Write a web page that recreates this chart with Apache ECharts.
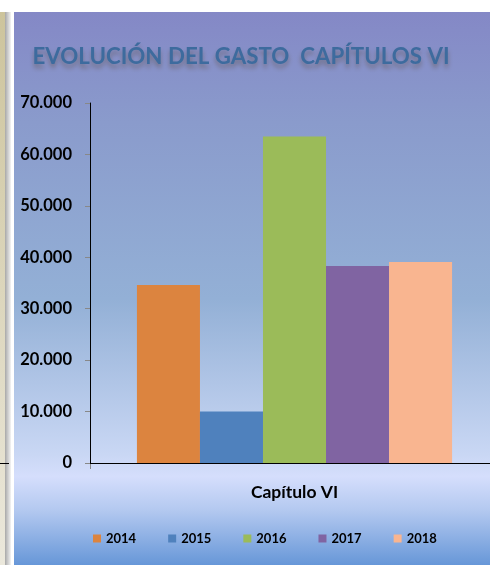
<!DOCTYPE html>
<html>
<head>
<meta charset="utf-8">
<script src="https://cdn.jsdelivr.net/npm/echarts@6/dist/echarts.min.js"></script>
<style>
  html, body { margin: 0; padding: 0; background: #ffffff; }
  #chart { width: 490px; height: 565px; }
</style>
</head>
<body>
<div id="chart"></div>
<script>
// Gasto del capítulo VI por año
const categories = ['Capítulo VI'];
const years = ['2014', '2015', '2016', '2017', '2018'];
const values = [34600, 10000, 63500, 38300, 39100];
const colors = ['#dc843f', '#4f81bd', '#9bbb59', '#8064a2', '#f9b590'];
const yTicks = { min: 0, max: 70000, interval: 10000 };

const fmt = v => String(v).replace(/\B(?=(\d{3})+(?!\d))/g, '.');

const chart = echarts.init(document.getElementById('chart'), null, { renderer: 'canvas' });

const series = years.map((y, i) => ({
  name: y,
  type: 'bar',
  data: [values[i]],
  itemStyle: { color: colors[i] },
  barGap: '0%',
  barCategoryGap: '19.4%'
}));

chart.setOption({
  animation: false,
  graphic: [
    // side strip at the left edge
    { type: 'rect', silent: true, z: -10,
      shape: { x: 0, y: 12, width: 5, height: 553 },
      style: { fill: { type: 'linear', x: 0, y: 0, x2: 0, y2: 1,
        colorStops: [{ offset: 0, color: '#cdc49c' }, { offset: 1, color: '#ebe8dc' }] } } },
    { type: 'rect', silent: true, z: -10,
      shape: { x: 5, y: 12, width: 6, height: 553 },
      style: { fill: { type: 'linear', x: 0, y: 0, x2: 1, y2: 0,
        colorStops: [{ offset: 0, color: '#a8a8a8' }, { offset: 1, color: '#f4f4f4' }] } } },
    { type: 'line', silent: true, z: -9,
      shape: { x1: 0, y1: 463.5, x2: 9, y2: 463.5 },
      style: { stroke: '#000', lineWidth: 1 } },
    // chart area background
    { type: 'rect', silent: true, z: -10,
      shape: { x: 14, y: 12, width: 476, height: 553 },
      style: { fill: { type: 'linear', x: 0, y: 0, x2: 0, y2: 1,
        colorStops: [
          { offset: 0, color: '#8488c6' },
          { offset: 0.2, color: '#8a9bcc' },
          { offset: 0.52, color: '#93b0d6' },
          { offset: 0.8, color: '#c9d7f4' },
          { offset: 0.84, color: '#d5defc' },
          { offset: 0.9, color: '#b4c9f0' },
          { offset: 1, color: '#6797d8' }
        ] } } },
    // axis corner: x axis line continues to the y axis, with its tick
    { type: 'line', silent: true, z: 5,
      shape: { x1: 90, y1: 463.5, x2: 100, y2: 463.5 },
      style: { stroke: '#000', lineWidth: 1 } },
    { type: 'line', silent: true, z: 4,
      shape: { x1: 90.5, y1: 464, x2: 90.5, y2: 469 },
      style: { stroke: '#888', lineWidth: 1 } }
  ],
  title: {
    text: 'EVOLUCIÓN DEL GASTO  CAPÍTULOS VI',
    left: 236, top: 41, textAlign: 'center',
    textStyle: {
      fontFamily: 'Lato', fontWeight: 'bold', fontSize: 22.3, color: '#3d6b9e',
      textShadowColor: 'rgba(80,65,40,0.45)', textShadowBlur: 5, textShadowOffsetY: 4
    }
  },
  legend: {
    data: years,
    left: 88, top: 527,
    itemWidth: 8, itemHeight: 8, itemGap: 32,
    icon: 'rect',
    textStyle: { fontFamily: 'Lato', fontWeight: 'bold', fontSize: 13, color: '#000' }
  },
  grid: { left: 99, top: 103, right: 0, bottom: 102, containLabel: false },
  xAxis: {
    type: 'category',
    data: categories,
    axisLine: { lineStyle: { color: '#000', width: 1 } },
    axisTick: { show: false },
    axisLabel: { margin: 20, fontFamily: 'Lato', fontWeight: 'bold', fontSize: 17.5, color: '#000' }
  },
  yAxis: {
    type: 'value',
    offset: 9,
    min: yTicks.min, max: yTicks.max, interval: yTicks.interval,
    axisLine: { show: true, lineStyle: { color: '#000', width: 1 } },
    axisTick: { show: true, length: 5, lineStyle: { color: '#888' } },
    splitLine: { show: false },
    axisLabel: { margin: 18, fontFamily: 'Lato', fontWeight: 'bold', fontSize: 16.5, color: '#000',
      formatter: v => fmt(v) }
  },
  series: series
});
</script>
</body>
</html>
